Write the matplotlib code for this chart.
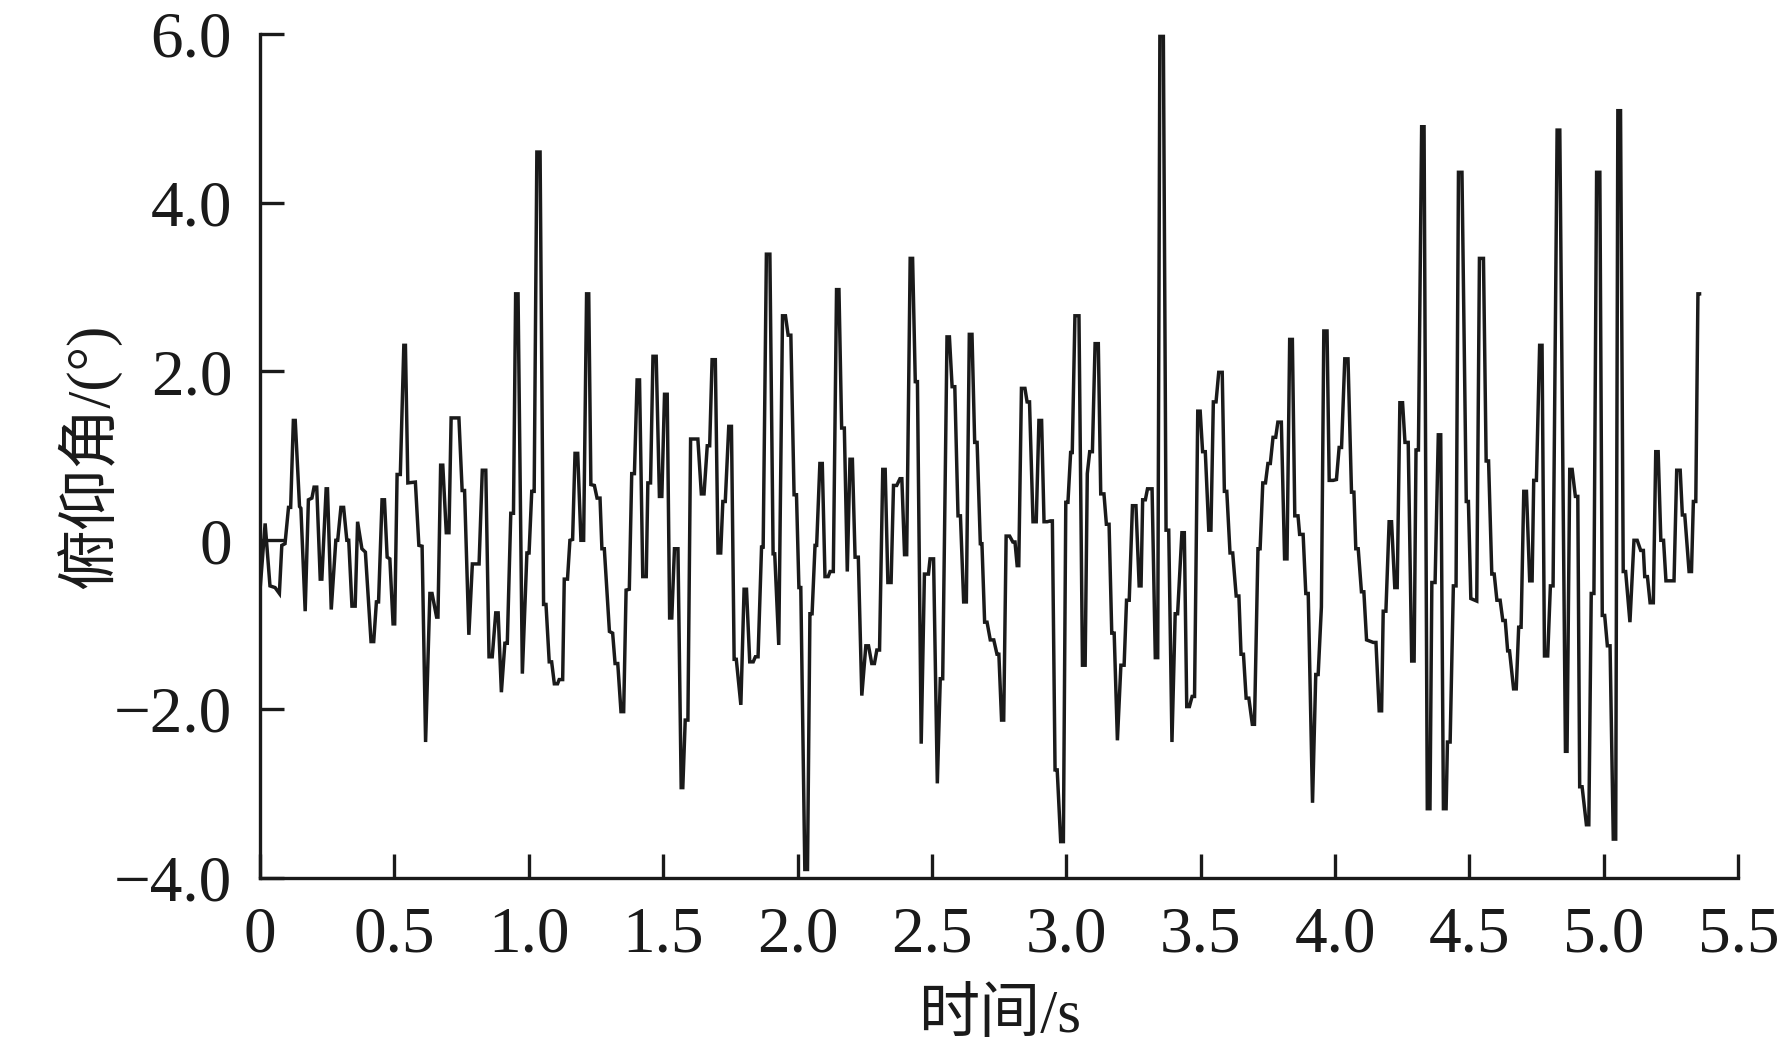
import matplotlib
matplotlib.use("Agg")
import matplotlib.pyplot as plt

plt.rcParams["font.family"] = ["Liberation Serif", "Noto Sans CJK SC"]

# pitch angle record (time in s, angle in degrees)
time_s = [
    0.000, 0.019, 0.037, 0.056, 0.072, 0.081, 0.093, 0.106, 0.114, 0.124, 0.131, 0.147, 0.152, 0.168,
    0.180, 0.193, 0.201, 0.211, 0.224, 0.230, 0.246, 0.251, 0.265, 0.282, 0.289, 0.301, 0.311, 0.323,
    0.330, 0.342, 0.354, 0.363, 0.379, 0.392, 0.413, 0.423, 0.433, 0.441, 0.454, 0.463, 0.473, 0.483,
    0.495, 0.501, 0.510, 0.522, 0.535, 0.541, 0.550,
    0.578, 0.591, 0.603, 0.616, 0.632, 0.640, 0.657, 0.662, 0.672, 0.680, 0.693, 0.703, 0.711, 0.740,
    0.752, 0.761, 0.777, 0.790, 0.815, 0.827, 0.840, 0.852, 0.864, 0.877, 0.886, 0.898, 0.911, 0.920,
    0.933, 0.943, 0.951, 0.960, 0.976, 0.993, 1.001, 1.011, 1.020, 1.030, 1.042, 1.055, 1.064, 1.076,
    1.085, 1.095, 1.107,
    1.113, 1.126, 1.132, 1.144, 1.153, 1.163, 1.172, 1.182, 1.194, 1.204, 1.215, 1.223, 1.231, 1.244,
    1.254, 1.265, 1.272, 1.281, 1.300, 1.312, 1.321, 1.331, 1.343, 1.353, 1.362, 1.374, 1.383, 1.393,
    1.403, 1.412, 1.424, 1.437, 1.443, 1.453, 1.462, 1.474, 1.486, 1.495, 1.505, 1.515, 1.524, 1.532,
    1.542, 1.555, 1.567, 1.573, 1.582, 1.592, 1.602, 1.629, 1.642, 1.652,
    1.664, 1.673, 1.682, 1.694, 1.704, 1.714, 1.722, 1.731, 1.744, 1.754, 1.764, 1.772, 1.789, 1.801,
    1.810, 1.822, 1.835, 1.843, 1.853, 1.866, 1.872, 1.884, 1.897, 1.909, 1.915, 1.930, 1.944, 1.955,
    1.965, 1.975, 1.987, 1.996, 2.005, 2.012, 2.027, 2.037, 2.046, 2.054, 2.065, 2.071, 2.083, 2.092,
    2.102, 2.114, 2.121, 2.133, 2.145, 2.154, 2.164, 2.174, 2.185, 2.195, 2.204, 2.214, 2.226,
    2.239, 2.254, 2.264, 2.276, 2.286, 2.295, 2.305, 2.317, 2.326, 2.336, 2.348, 2.357, 2.369, 2.381,
    2.388, 2.398, 2.406, 2.419, 2.428, 2.438, 2.446, 2.460, 2.472, 2.487, 2.493, 2.506, 2.520, 2.531,
    2.540, 2.556, 2.565, 2.575, 2.585, 2.597, 2.606, 2.618, 2.628, 2.639, 2.649, 2.659, 2.668, 2.680,
    2.686, 2.696, 2.705, 2.717, 2.730, 2.742, 2.749, 2.759, 2.767,
    2.776, 2.789, 2.801, 2.809, 2.817, 2.823, 2.833, 2.846, 2.854, 2.863, 2.876, 2.888, 2.898, 2.908,
    2.917, 2.929, 2.941, 2.948, 2.958, 2.966, 2.979, 2.989, 2.998, 3.006, 3.016, 3.022, 3.032, 3.047,
    3.060, 3.070, 3.078, 3.087, 3.097, 3.107, 3.119, 3.128, 3.140, 3.149, 3.159, 3.169, 3.178, 3.190,
    3.203, 3.215, 3.224, 3.234, 3.246, 3.259, 3.271, 3.278, 3.284, 3.294, 3.302, 3.319, 3.331, 3.340,
    3.348, 3.361,
    3.371, 3.381, 3.393, 3.405, 3.414, 3.430, 3.439, 3.448, 3.458, 3.468, 3.477, 3.489, 3.498, 3.507,
    3.517, 3.530, 3.538, 3.547, 3.557, 3.567, 3.580, 3.588, 3.597, 3.609, 3.619, 3.632, 3.642, 3.650,
    3.659, 3.669, 3.679, 3.692, 3.700, 3.713, 3.721, 3.731, 3.741, 3.750, 3.759, 3.769, 3.779, 3.787,
    3.800, 3.812, 3.821, 3.831, 3.841, 3.850, 3.862, 3.868, 3.881, 3.891, 3.900,
    3.916, 3.928, 3.937, 3.949, 3.958, 3.970, 3.978, 3.993, 4.005, 4.015, 4.024, 4.036, 4.048, 4.061,
    4.070, 4.077, 4.086, 4.098, 4.107, 4.117, 4.142, 4.152, 4.164, 4.173, 4.179, 4.189, 4.201, 4.210,
    4.222, 4.231, 4.241, 4.251, 4.260, 4.272, 4.285, 4.294, 4.301, 4.310, 4.322, 4.331, 4.343, 4.353,
    4.360, 4.372, 4.384, 4.393, 4.403, 4.413, 4.418, 4.428, 4.440, 4.450,
    4.459, 4.472, 4.488, 4.496, 4.505, 4.527, 4.537, 4.552, 4.562, 4.571, 4.583, 4.592, 4.602, 4.614,
    4.624, 4.633, 4.642, 4.649, 4.664, 4.674, 4.683, 4.692, 4.702, 4.712, 4.724, 4.733, 4.739, 4.749,
    4.761, 4.770, 4.779, 4.791, 4.801, 4.811, 4.826, 4.836, 4.857, 4.863, 4.873, 4.882, 4.894, 4.903,
    4.910, 4.919, 4.935, 4.944, 4.953, 4.963, 4.973, 4.985, 4.994, 5.003, 5.013, 5.023,
    5.035, 5.044, 5.052, 5.062, 5.072, 5.081, 5.097, 5.112, 5.124, 5.137, 5.147, 5.152, 5.162, 5.172,
    5.184, 5.193, 5.202, 5.212, 5.222, 5.231, 5.261, 5.271, 5.284, 5.292, 5.301, 5.317, 5.326, 5.333,
    5.342, 5.350, 5.356,
]
pitch_deg = [
    -0.59, 0.20, -0.54, -0.56, -0.63, -0.06, -0.04, 0.39, 0.39, 1.42, 1.42, 0.40, 0.38, -0.84,
    0.48, 0.50, 0.63, 0.63, -0.46, -0.46, 0.61, 0.61, -0.82, 0.00, 0.00, 0.39, 0.39, 0.00,
    0.00, -0.78, -0.78, 0.22, -0.10, -0.14, -1.20, -1.20, -0.73, -0.73, 0.48, 0.48, -0.20, -0.22,
    -0.99, -0.99, 0.78, 0.78, 2.31, 2.31, 0.68,
    0.69, -0.06, -0.07, -2.39, -0.63, -0.63, -0.91, -0.91, 0.89, 0.89, 0.09, 0.09, 1.45, 1.45,
    0.59, 0.59, -1.12, -0.28, -0.28, 0.83, 0.83, -1.38, -1.38, -0.86, -0.86, -1.80, -1.22, -1.22,
    0.32, 0.32, 2.92, 2.92, -1.58, -0.15, -0.15, 0.58, 0.58, 4.60, 4.60, -0.76, -0.76, -1.44,
    -1.44, -1.70, -1.70,
    -1.65, -1.65, -0.46, -0.46, 0.00, 0.01, 1.03, 1.03, 0.00, 0.00, 2.92, 2.92, 0.66, 0.65,
    0.50, 0.50, -0.10, -0.10, -1.08, -1.10, -1.46, -1.46, -2.03, -2.03, -0.59, -0.58, 0.79, 0.79,
    1.90, 1.90, -0.43, -0.43, 0.68, 0.68, 2.18, 2.18, 0.52, 0.52, 1.73, 1.73, -0.92, -0.92,
    -0.10, -0.10, -2.93, -2.93, -2.13, -2.13, 1.20, 1.20, 0.55, 0.55,
    1.12, 1.12, 2.14, 2.14, -0.15, -0.15, 0.46, 0.46, 1.35, 1.35, -1.41, -1.41, -1.95, -0.58,
    -0.58, -1.44, -1.44, -1.38, -1.38, -0.08, -0.08, 3.39, 3.39, -0.16, -0.16, -1.24, 2.66, 2.66,
    2.43, 2.43, 0.54, 0.54, -0.56, -0.56, -3.90, -3.90, -0.87, -0.87, -0.06, -0.06, 0.91, 0.91,
    -0.43, -0.43, -0.37, -0.37, 2.97, 2.97, 1.33, 1.33, -0.37, 0.96, 0.96, -0.20, -0.20,
    -1.84, -1.25, -1.25, -1.46, -1.46, -1.30, -1.30, 0.84, 0.84, -0.50, -0.50, 0.65, 0.65, 0.73,
    0.73, -0.17, -0.17, 3.34, 3.34, 1.88, 1.88, -2.41, -0.40, -0.40, -0.22, -0.22, -2.88, -1.64,
    -1.64, 2.41, 2.41, 1.82, 1.82, 0.29, 0.29, -0.73, -0.73, 2.44, 2.44, 1.16, 1.16, -0.04,
    -0.04, -0.97, -0.97, -1.18, -1.18, -1.35, -1.35, -2.13, -2.13,
    0.05, 0.05, -0.02, -0.02, -0.30, -0.30, 1.80, 1.80, 1.64, 1.64, 0.22, 0.22, 1.42, 1.42,
    0.22, 0.22, 0.23, 0.23, -2.72, -2.72, -3.57, -3.57, 0.45, 0.45, 1.04, 1.04, 2.66, 2.66,
    -1.48, -1.48, 0.79, 1.05, 1.05, 2.33, 2.33, 0.55, 0.55, 0.19, 0.19, -1.10, -1.10, -2.37,
    -1.48, -1.48, -0.71, -0.71, 0.41, 0.41, -0.54, -0.54, 0.48, 0.48, 0.61, 0.61, -1.39, -1.39,
    5.97, 5.97,
    0.12, 0.12, -2.39, -0.87, -0.87, 0.09, 0.09, -1.97, -1.97, -1.85, -1.85, 1.53, 1.53, 1.05,
    1.05, 0.12, 0.12, 1.64, 1.64, 1.99, 1.99, 0.58, 0.58, -0.15, -0.15, -0.66, -0.66, -1.35,
    -1.35, -1.87, -1.87, -2.18, -2.18, -0.10, -0.10, 0.68, 0.68, 0.91, 0.91, 1.22, 1.22, 1.40,
    1.40, -0.22, -0.22, 2.38, 2.38, 0.29, 0.29, 0.07, 0.07, -0.63, -0.63,
    -3.11, -1.59, -1.59, -0.79, 2.48, 2.48, 0.71, 0.71, 0.72, 1.10, 1.10, 2.15, 2.15, 0.57,
    0.57, -0.10, -0.10, -0.61, -0.61, -1.18, -1.21, -1.21, -2.02, -2.02, -0.84, -0.84, 0.22, 0.22,
    -0.56, -0.56, 1.63, 1.63, 1.16, 1.16, -1.43, -1.43, 1.07, 1.07, 4.90, 4.90, -3.18, -3.18,
    -0.50, -0.50, 1.25, 1.25, -3.18, -3.18, -2.39, -2.39, -0.54, -0.54,
    4.36, 4.36, 0.46, 0.46, -0.69, -0.72, 3.34, 3.34, 0.94, 0.94, -0.40, -0.40, -0.71, -0.71,
    -0.95, -0.95, -1.31, -1.31, -1.76, -1.76, -1.03, -1.03, 0.58, 0.58, -0.48, -0.48, 0.71, 0.71,
    2.31, 2.31, -1.37, -1.37, -0.54, -0.54, 4.86, 4.86, -2.50, -2.50, 0.84, 0.84, 0.52, 0.52,
    -2.92, -2.92, -3.37, -3.37, -0.63, -0.63, 4.36, 4.36, -0.89, -0.89, -1.25, -1.25,
    -3.54, -3.54, 5.09, 5.09, -0.37, -0.37, -0.97, 0.00, 0.00, -0.12, -0.12, -0.43, -0.43, -0.74,
    -0.74, 1.05, 1.05, 0.00, 0.00, -0.48, -0.48, 0.83, 0.83, 0.30, 0.30, -0.37, -0.37, 0.46,
    0.46, 2.92, 2.92,
]

x_ticks = [0, 0.5, 1.0, 1.5, 2.0, 2.5, 3.0, 3.5, 4.0, 4.5, 5.0, 5.5]
x_labels = ["0", "0.5", "1.0", "1.5", "2.0", "2.5", "3.0", "3.5", "4.0", "4.5", "5.0", "5.5"]
y_ticks = [-4, -2, 0, 2, 4, 6]
y_labels = ["\u22124.0", "\u22122.0", "0", "2.0", "4.0", "6.0"]

INK = "#1a1a1a"

fig = plt.figure(figsize=(17.81, 10.59), dpi=100)
ax = fig.add_axes([0.146, 0.171, 0.830, 0.797])

ax.plot(time_s, pitch_deg, color=INK, linewidth=2.5, solid_joinstyle="miter")

ax.set_xlim(0, 5.5)
ax.set_ylim(-4, 6)
ax.set_xticks(x_ticks)
ax.set_xticklabels(x_labels)
ax.set_yticks(y_ticks)
ax.set_yticklabels(y_labels)

ax.spines["top"].set_visible(False)
ax.spines["right"].set_visible(False)
for side in ("left", "bottom"):
    ax.spines[side].set_linewidth(2.4)
    ax.spines[side].set_color(INK)
ax.tick_params(direction="in", length=17, width=2.4, colors=INK, labelsize=47)
ax.tick_params(axis="y", pad=20)
ax.tick_params(axis="x", pad=20)

ax.set_xlabel("时间/s", fontsize=44, color=INK)
ax.set_ylabel("俯仰角/(°)", fontsize=44, color=INK, labelpad=-5)
ax.xaxis.set_label_coords(0.5, -0.132)

fig.savefig("out.png", dpi=100, facecolor="white")
